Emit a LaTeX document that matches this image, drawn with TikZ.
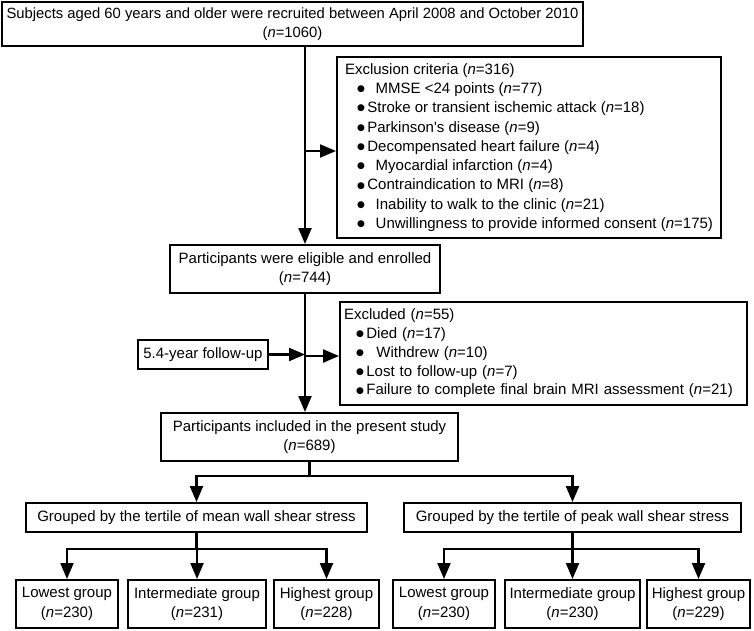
\documentclass[tikz,border=0pt]{standalone}
\usepackage{fontspec}
\setmainfont{Liberation Sans}
\newfontfamily\dejavu{DejaVu Sans}
\usepackage{tikz}
\usetikzlibrary{arrows.meta, positioning}

\newcommand{\nn}[1]{(\textit{n}=#1)}
\newcommand{\bul}{\hspace*{12pt}\raisebox{1.8pt}{\dejavu\fontsize{9}{9}\selectfont ●}\,}

\tikzset{
  box/.style={draw, line width=2pt, align=center, inner sep=4pt,
    font=\fontsize{15}{19.5}\selectfont},
  listbox/.style={box, align=left},
  arr/.style={line width=2.2pt, -{Triangle[length=16pt,width=13pt]}}
}

\begin{document}
\begin{tikzpicture}[x=1pt, y=-1pt]
  \useasboundingbox (0,0) rectangle (754,630);
  % recruitment
  \node[box, minimum width=581, minimum height=44, inner xsep=0pt,
        font=\fontsize{14.8}{19.5}\selectfont] (subj) at (292.5,24)
    {Subjects aged 60 years and older were recruited between April 2008 and October 2010\\ \nn{1060}};
  % exclusion criteria
  \node[listbox, minimum width=384, minimum height=181, inner xsep=1pt,
        font=\fontsize{15}{19.3}\selectfont] (excl) at (529,147.5)
    {Exclusion criteria \nn{316}\\
     \bul\ \ MMSE <24 points \nn{77}\\
     \bul Stroke or transient ischemic attack \nn{18}\\
     \bul Parkinson\textquotesingle s disease \nn{9}\\
     \bul Decompensated heart failure \nn{4}\\
     \bul\ \ Myocardial infarction \nn{4}\\
     \bul Contraindication to MRI \nn{8}\\
     \bul\ \ Inability to walk to the clinic \nn{21}\\
     \bul\ \ Unwillingness to provide informed consent \nn{175}};
  % enrolled
  \node[box, minimum width=270, minimum height=48] (elig) at (305,269)
    {Participants were eligible and enrolled\\ \nn{744}};
  % follow-up
  \node[box, minimum width=130, minimum height=29, inner sep=1pt] (fu) at (203,354.5)
    {5.4-year follow-up};
  \node[listbox, minimum width=407, minimum height=103, text width=399, inner xsep=3pt,
        font=\fontsize{15}{18.8}\selectfont] (lost) at (543.5,353.5)
    {Excluded \nn{55}\\
     \bul Died \nn{17}\\
     \bul\ \ Withdrew \nn{10}\\
     \bul Lost to follow-up \nn{7}\\
     \bul Failure to complete final brain MRI assessment \nn{21}};
  % study sample
  \node[box, minimum width=297, minimum height=48] (incl) at (309.5,437)
    {Participants included in the present study\\ \nn{689}};
  % tertile groups
  \node[box, minimum width=341, minimum height=29, inner sep=1pt] (mean) at (196.5,517.5)
    {Grouped by the tertile of mean wall shear stress};
  \node[box, minimum width=337, minimum height=29, inner sep=1pt] (peak) at (572.5,517.5)
    {Grouped by the tertile of peak wall shear stress};
  \node[box, minimum width=102, minimum height=48, inner sep=1pt] (meanlow) at (67,604) {Lowest group\\ \nn{230}};
  \node[box, minimum width=138, minimum height=48, inner sep=1pt] (meanmid) at (197,604) {Intermediate group\\ \nn{231}};
  \node[box, minimum width=105, minimum height=48, inner sep=1pt] (meanhigh) at (326.5,604) {Highest group\\ \nn{228}};
  \node[box, minimum width=102, minimum height=48, inner sep=1pt] (peaklow) at (444,604) {Lowest group\\ \nn{230}};
  \node[box, minimum width=135, minimum height=48, inner sep=1pt] (peakmid) at (572.5,604) {Intermediate group\\ \nn{230}};
  \node[box, minimum width=103, minimum height=48, inner sep=1pt] (peakhigh) at (698.5,604) {Highest group\\ \nn{229}};
  % connectors
  \draw[arr] (subj.south -| elig.north) -- (elig.north);
  \draw[arr] ([yshift=-3.5pt]excl.west -| elig.north) -- ([yshift=-3.5pt]excl.west);
  \draw[arr] (elig.south) -- (elig.south |- incl.north);
  \draw[arr] (fu.east) -- (fu.east -| elig.south);
  \draw[arr] ([yshift=-2.5pt]lost.west -| elig.south) -- ([yshift=-2.5pt]lost.west);
  \draw[arr] (incl.south) -- ++(0,14) -| (mean.north);
  \draw[arr] (incl.south) -- ++(0,14) -| (peak.north);
  \foreach \g in {low,mid,high} {
    \draw[arr] (mean.south) -- ++(0,16) -| (mean\g.north);
    \draw[arr] (peak.south) -- ++(0,16) -| (peak\g.north);
  }
\end{tikzpicture}
\end{document}
